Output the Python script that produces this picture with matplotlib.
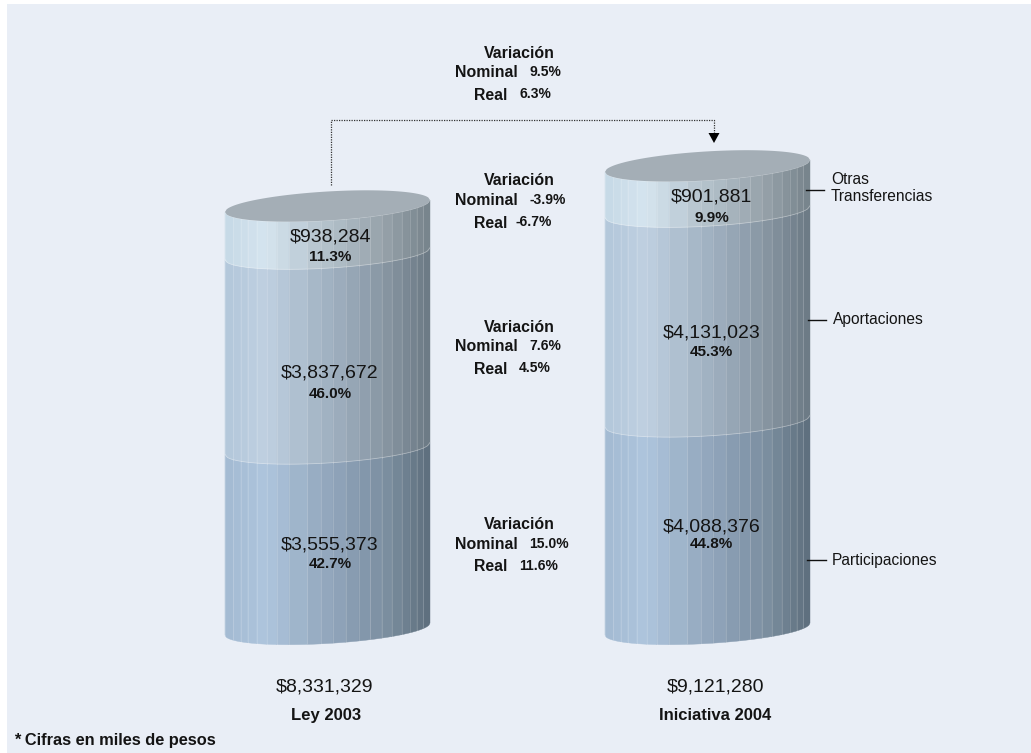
import numpy as np
import matplotlib
matplotlib.use("Agg")
import matplotlib.pyplot as plt
from matplotlib.colors import LinearSegmentedColormap
from matplotlib.patches import Polygon, Rectangle

plt.rcParams["font.family"] = ["Liberation Sans", "DejaVu Sans"]

# datos (miles de pesos)
anios = ["Ley 2003", "Iniciativa 2004"]
conceptos = ["Participaciones", "Aportaciones", "Otras\nTransferencias"]
ley_2003 = [3555373, 3837672, 938284]
iniciativa_2004 = [4088376, 4131023, 901881]
pct_2003 = ["42.7%", "46.0%", "11.3%"]
pct_2004 = ["44.8%", "45.3%", "9.9%"]
var_nominal = ["15.0%", "7.6%", "-3.9%", "9.5%"]
var_real = ["11.6%", "4.5%", "-6.7%", "6.3%"]

W, H = 1031, 753
FONDO = "#e9eef6"
TINTA = "#141414"
PESOS_POR_PX = 8331329 / 423.0
BASE_PX = 635
SEMI_MENOR = 14.5
INCLINA = -12.0 / 205.0

# franjas verticales del cilindro, medidas sobre el ancho
franjas = np.array([0, 25, 47, 68, 95, 125, 155, 192, 247, 287, 324, 362,
                    402, 436, 470, 500, 530, 555, 575, 595, 615]) / 615.0

colores = [
    ["#a3bad2", "#aec5dd", "#9bb0c6", "#8a9eb4", "#7a8d9e", "#5d6d7c"],
    ["#b3c7da", "#bfd0e1", "#aabbcb", "#98a8b8", "#85939f", "#6b7984"],
    ["#c6d9e6", "#d5e4ef", "#bccbd5", "#a9b6bf", "#939ea6", "#76838b"],
]
mapas = [LinearSegmentedColormap.from_list(f"seg{i}", c) for i, c in enumerate(colores)]

fig = plt.figure(figsize=(W / 100, H / 100), dpi=100, facecolor="white")
ax = fig.add_axes([0, 0, 1, 1])
ax.set_xlim(0, W)
ax.set_ylim((BASE_PX - H) * PESOS_POR_PX, BASE_PX * PESOS_POR_PX)
ax.axis("off")
ax.add_patch(Rectangle((7, (BASE_PX - H) * PESOS_POR_PX), W, (H - 4) * PESOS_POR_PX,
                       facecolor=FONDO, edgecolor="none", zorder=0))


def curva(x0, ancho, nivel, t, abajo=True):
    # borde frontal (o trasero) de la elipse inclinada
    u = 2 * t - 1
    signo = -1 if abajo else 1
    px = signo * SEMI_MENOR * np.sqrt(np.clip(1 - u ** 2, 0, 1)) - INCLINA * ancho * t
    return x0 + ancho * t, nivel + px * PESOS_POR_PX


def cilindro(x0, ancho, valores):
    acumulado = 0
    for i, valor in enumerate(valores):
        for a, b in zip(franjas[:-1], franjas[1:]):
            t = np.linspace(a, b, 8)
            xs, ys_ab = curva(x0, ancho, acumulado, t)
            _, ys_ar = curva(x0, ancho, acumulado + valor, t)
            puntos = np.r_[np.c_[xs, ys_ab], np.c_[xs[::-1], ys_ar[::-1]]]
            ax.add_patch(Polygon(puntos, closed=True, facecolor=mapas[i]((a + b) / 2),
                                 edgecolor=mapas[i]((a + b) / 2), lw=0.3, zorder=2 + i))
            ax.plot([xs[0], xs[0]], [ys_ab[0], ys_ar[0]], color="white", lw=0.6,
                    alpha=0.18, zorder=2 + i)
        acumulado += valor
        t = np.linspace(0, 1, 80)
        xs, ys = curva(x0, ancho, acumulado, t)
        ax.plot(xs, ys, color="white", lw=0.6, alpha=0.35, zorder=6)
    # tapa superior
    t = np.linspace(0, 1, 120)
    xs, ys_ab = curva(x0, ancho, acumulado, t)
    _, ys_ar = curva(x0, ancho, acumulado, t, abajo=False)
    puntos = np.r_[np.c_[xs, ys_ab], np.c_[xs[::-1], ys_ar[::-1]]]
    ax.add_patch(Polygon(puntos, closed=True, facecolor="#a4aeb6", edgecolor="none", zorder=7))


def texto(x, y, s, size=11, weight="normal", ha="center", **kw):
    fig.text(x / W, 1 - (y + 1.5) / H, s, fontsize=size, fontweight=weight, ha=ha, va="center",
             color=TINTA, zorder=10, **kw)


cilindro(225, 205, ley_2003)
cilindro(605, 205, iniciativa_2004)

# etiquetas dentro de los cilindros
y_izq = [(543, 563), (372, 392), (235, 256)]
y_der = [(525, 543), (331, 351), (196, 217)]
for i in range(3):
    texto(330, y_izq[i][0], f"${ley_2003[i]:,}", size=14)
    texto(330, y_izq[i][1], pct_2003[i], size=11, weight="bold")
    texto(711.5, y_der[i][0], f"${iniciativa_2004[i]:,}", size=14)
    texto(711.5, y_der[i][1], pct_2004[i], size=11, weight="bold")

# totales
texto(324, 686, f"${sum(ley_2003):,}", size=14)
texto(715, 686, f"${sum(iniciativa_2004):,}", size=14)
texto(326, 714, anios[0], size=12, weight="bold")
texto(715, 714, anios[1], size=12, weight="bold")

# bloques de variacion
y_bloques = [(523, 543, 565), (326, 345, 368), (179, 199, 222), (52, 71, 94)]
x_real = [519, 519, 516, 520]
for i, (y1, y2, y3) in enumerate(y_bloques):
    texto(484, y1, "Variación", size=11.4, weight="bold", ha="left")
    texto(455, y2, "Nominal", size=11.4, weight="bold", ha="left")
    texto(474, y3, "Real", size=11.4, weight="bold", ha="left")
    texto(529, y2 - 1, var_nominal[i], size=10, weight="bold", ha="left")
    texto(x_real[i], y3 - 1, var_real[i], size=10, weight="bold", ha="left")


# lineas guia y nombres de los conceptos
def px_y(y):
    return (BASE_PX - y) * PESOS_POR_PX


for y, yt, x1, x2, xt, nombre in zip([560, 320, 190], [560, 319, 188], [807, 808, 806],
                                     [826, 826, 824], [832, 833, 831], conceptos):
    ax.plot([x1, x2], [px_y(y), px_y(y)], color="#111111", lw=1, zorder=9)
    fig.text(xt / W, 1 - yt / H, nombre, fontsize=11.2, ha="left", va="center",
             color=TINTA, linespacing=1.2)

# flecha punteada entre cilindros
ax.plot([331, 331, 714, 714], [px_y(185), px_y(119.5), px_y(119.5), px_y(133)],
        color="#333333", lw=0.9, ls=(0, (1, 1)), zorder=9)
ax.add_patch(Polygon([(708.5, px_y(133)), (719.5, px_y(133)), (714, px_y(143))],
                     closed=True, facecolor="black", edgecolor="none", zorder=9))

texto(14, 739, "* Cifras en miles de pesos", size=11.8, weight="bold", ha="left")

fig.savefig("out.png", dpi=100)
